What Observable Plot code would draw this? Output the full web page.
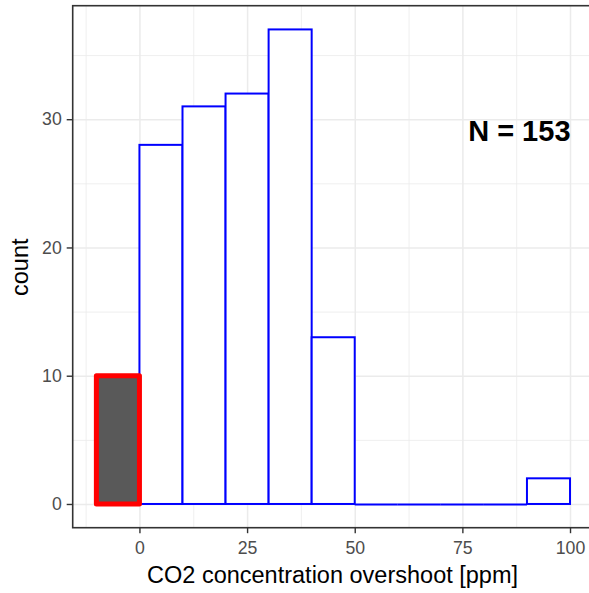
<!DOCTYPE html>
<html><head><meta charset="utf-8">
<script src="https://cdn.jsdelivr.net/npm/d3@7"></script>
<script src="https://cdn.jsdelivr.net/npm/@observablehq/plot@0.6"></script>
<style>body{margin:0;background:#fff;} svg{display:block}</style>
</head><body><div id="chart"></div>
<script>
const binStarts = [0, 10, 20, 30, 40, 50, 60, 70, 80, 90];
const binCounts = [28, 31, 32, 37, 13, 0, 0, 0, 0, 2];
const negStarts = [-10];
const negCounts = [10];
const binWidth = 10;
const xTicks = [0, 25, 50, 75, 100];
const xMinor = [-12.5, 12.5, 37.5, 62.5, 87.5];
const yTicks = [0, 10, 20, 30];
const yMinor = [5, 15, 25, 35];
const annotation = "N = 153";
const annotationPos = {x: 100, y: 29.1};
const xTitle = "CO2 concentration overshoot [ppm]";
const yTitle = "count";

const bins = binStarts.map((s, i) => ({x1: s, x2: s + binWidth, y: binCounts[i]}));
const negBins = negStarts.map((s, i) => ({x1: s, x2: s + binWidth, y: negCounts[i]}));

const chart = Plot.plot({
  width: 589, height: 593,
  marginTop: 5.7, marginBottom: 65.3, marginLeft: 72.7, marginRight: 0,
  x: {domain: [-15.5, 105.5], range: [72.7, 593.7]},
  y: {domain: [-1.85, 38.85], range: [527.7, 5.7]},
  style: {fontFamily: "'Liberation Sans', Arial, sans-serif", background: "white"},
  marks: [
    Plot.ruleX(xMinor, {stroke: "#EBEBEB", strokeWidth: 0.8}),
    Plot.ruleY(yMinor, {stroke: "#EBEBEB", strokeWidth: 0.8}),
    Plot.ruleX(xTicks, {stroke: "#EBEBEB", strokeWidth: 1.5}),
    Plot.ruleY(yTicks, {stroke: "#EBEBEB", strokeWidth: 1.5}),
    Plot.rect(bins.filter(d => d.y > 0), {x1: "x1", x2: "x2", y1: 0, y2: "y", fill: "white", stroke: "blue", strokeWidth: 2, inset: 0}),
    Plot.ruleY(bins.filter(d => d.y === 0), {x1: "x1", x2: "x2", y: "y", stroke: "blue", strokeWidth: 2}),
    Plot.rect(negBins, {x1: "x1", x2: "x2", y1: 0, y2: "y", fill: "#595959", stroke: "red", strokeWidth: 5, strokeLinejoin: "round", inset: 0}),
    Plot.text([annotation], {x: annotationPos.x, y: annotationPos.y, text: d => d, textAnchor: "end", fontWeight: "bold", fontSize: 29, fill: "black"}),
    Plot.rect([0], {x1: -15.5, x2: 105.5, y1: -1.85, y2: 38.85, fill: "none", stroke: "#333333", strokeWidth: 1.6}),
    Plot.axisX(xTicks, {tickSize: 5.5, tickPadding: 8, stroke: "#333333", strokeWidth: 1.4, fill: "#4D4D4D", fontSize: 17.7, label: null}),
    Plot.axisY(yTicks, {tickSize: 6, tickPadding: 5.4, stroke: "#333333", strokeWidth: 1.4, fill: "#4D4D4D", fontSize: 17.7, label: null}),
    Plot.text([xTitle], {frameAnchor: "bottom", lineAnchor: "middle", textAnchor: "middle", text: d => d, dy: 47, dx: 1.2, fontSize: 23.5, fill: "black"}),
    Plot.text([yTitle], {frameAnchor: "left", lineAnchor: "middle", textAnchor: "middle", text: d => d, dx: -53.2, rotate: -90, fontSize: 23.5, fill: "black"})
  ]
});
document.getElementById("chart").appendChild(chart);
</script>
</body></html>
